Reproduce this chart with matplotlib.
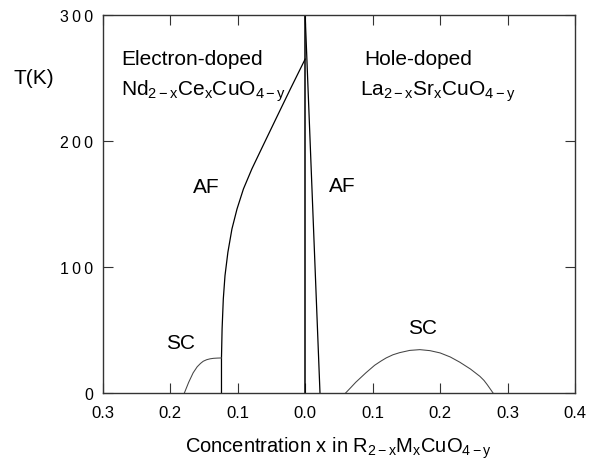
import matplotlib
matplotlib.use("Agg")
import matplotlib.pyplot as plt

# ------------------------------------------------------------
# Data
# ------------------------------------------------------------
# electron-doped side is plotted at negative x
af_e_x = [0.0, -0.0219, -0.0434, -0.0648, -0.079, -0.0915, -0.1010,
          -0.1085, -0.1145, -0.1188, -0.1213, -0.1231, -0.124, -0.124]
af_e_T = [265, 241.3, 217.5, 193.7, 177.8, 161.9, 146,
          130.2, 111.7, 93.1, 74.6, 50.8, 27.8, 0]

sc_e_x = [-0.179, -0.1726, -0.166, -0.160, -0.155, -0.151, -0.146,
          -0.141, -0.136, -0.130, -0.124]
sc_e_T = [0, 8.5, 16.0, 20.8, 23.5, 25.2, 26.4,
          27.1, 27.5, 27.7, 27.8]

af_h_x = [0.0, 0.022]
af_h_T = [300, 0]

sc_h_x = [0.060, 0.068, 0.075, 0.083, 0.090, 0.103, 0.112, 0.120, 0.130,
          0.140, 0.155, 0.170, 0.185, 0.200, 0.215, 0.229, 0.245, 0.259,
          0.265, 0.270, 0.2785]
sc_h_T = [0, 4.5, 8.5, 12.5, 16, 22, 25.2, 27.8, 30.3,
          32, 33.8, 34.4, 33.6, 31.8, 28.6, 24.5, 19, 13.2,
          10.0, 6.5, 0]

zero_x = [0.0, 0.0]
zero_T = [0, 300]

x_ticks = [-0.3, -0.2, -0.1, 0.0, 0.1, 0.2, 0.3, 0.4]
x_tick_labels = ["0.3", "0.2", "0.1", "0.0", "0.1", "0.2", "0.3", "0.4"]
y_ticks = [0, 100, 200, 300]
y_tick_labels = ["0", "1\u20090\u20090", "2\u20090\u20090", "3\u20090\u20090"]

# ------------------------------------------------------------
# Style
# ------------------------------------------------------------
plt.rcParams["font.family"] = ["Liberation Sans", "DejaVu Sans"]
plt.rcParams["mathtext.fontset"] = "custom"
plt.rcParams["mathtext.rm"] = "Liberation Sans"
plt.rcParams["mathtext.it"] = "Liberation Sans"
plt.rcParams["mathtext.bf"] = "Liberation Sans:bold"

fig = plt.figure(figsize=(5.99, 4.64), dpi=100)
ax = fig.add_axes([0.1715, 0.1509, 0.7885, 0.8146])

ax.plot(zero_x, zero_T, color="black", lw=1.1)
ax.plot(af_e_x, af_e_T, color="black", lw=0.9)
ax.plot(af_h_x, af_h_T, color="black", lw=0.9)
ax.plot(sc_e_x, sc_e_T, color="#444444", lw=0.75)
ax.plot(sc_h_x, sc_h_T, color="#444444", lw=0.75)

ax.set_xlim(-0.3, 0.4)
ax.set_ylim(0, 300)
ax.set_xticks(x_ticks)
ax.set_xticklabels(x_tick_labels, fontsize=12)
ax.set_yticks(y_ticks)
ax.set_yticklabels(y_tick_labels, fontsize=11.5)
ax.tick_params(direction="in", length=7, width=0.8, top=True, right=True,
               color="#333333")
ax.tick_params(axis="x", pad=9)
ax.tick_params(axis="y", pad=7)
for s in ax.spines.values():
    s.set_color("#333333")
    s.set_linewidth(1.0)

# labels
txt = dict(fontsize=15, color="black")
ax.text(-0.273, 261, "Electron-doped", ha="left", va="baseline", **txt)
ax.text(-0.273, 237, r"Nd$_{\mathrm{2-x}}$Ce$_{\mathrm{x}}$CuO$_{\mathrm{4-y}}$",
        ha="left", va="baseline", **txt)
ax.text(0.088, 261, "Hole-doped", ha="left", va="baseline", **txt)
ax.text(0.081, 237, r"La$_{\mathrm{2-x}}$Sr$_{\mathrm{x}}$CuO$_{\mathrm{4-y}}$",
        ha="left", va="baseline", **txt)
ax.text(-0.147, 164, "AF", ha="center", va="center", **txt)
ax.text(0.055, 165, "AF", ha="center", va="center", **txt)
ax.text(-0.185, 40, "SC", ha="center", va="center", **txt)
ax.text(0.174, 52, "SC", ha="center", va="center", **txt)

fig.text(0.057, 0.83, "T(K)", ha="center", va="center", fontsize=15)
ax.set_xlabel(r"Concentration x in R$_{\mathrm{2-x}}$M$_{\mathrm{x}}$CuO$_{\mathrm{4-y}}$",
              fontsize=14.5, labelpad=10)

fig.savefig("out.png", dpi=100)
